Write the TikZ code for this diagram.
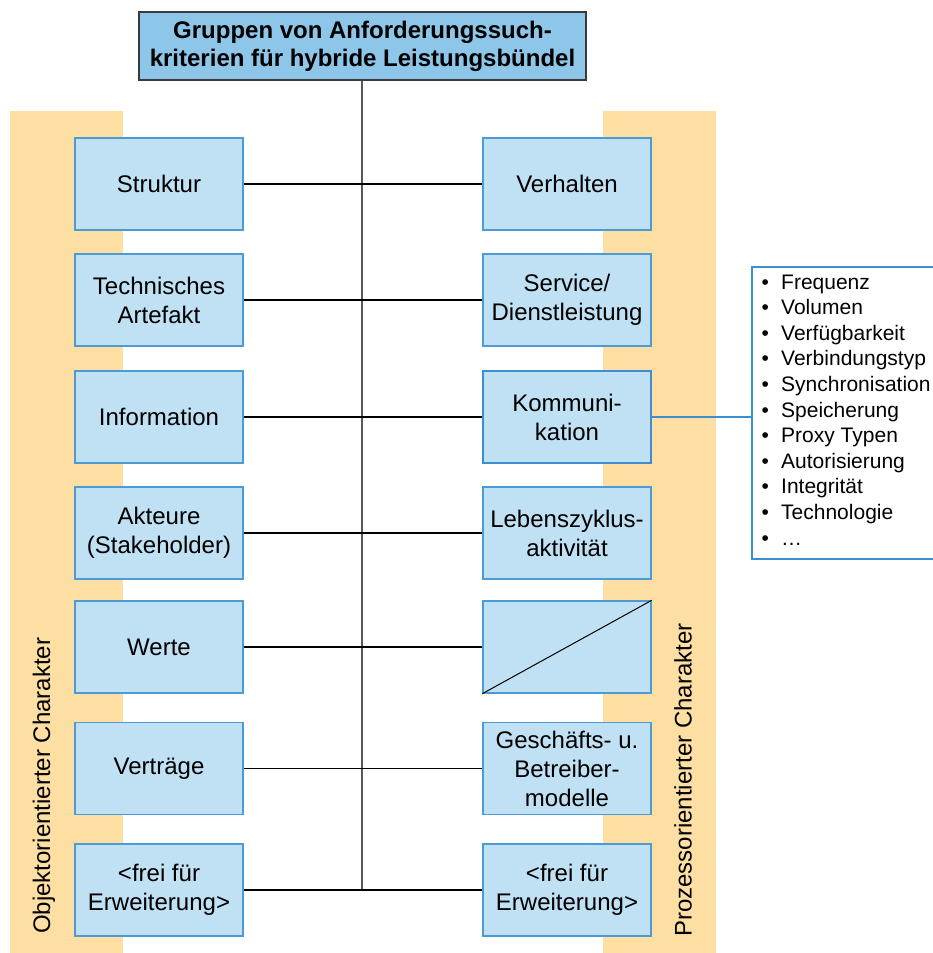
\documentclass[tikz,border=0pt]{standalone}
\usepackage{fontspec}
\setmainfont{Liberation Sans}
\definecolor{band}{HTML}{FDDEA3}
\definecolor{boxfill}{HTML}{C0E0F3}
\definecolor{boxline}{HTML}{4C9BD5}
\definecolor{kline}{HTML}{3D8ED0}
\definecolor{titlefill}{HTML}{8DC6E8}
\definecolor{titleline}{HTML}{3A3A3A}
\definecolor{trunk}{HTML}{595959}
\tikzset{
  cbox/.style={draw=boxline, line width=1.4pt, fill=boxfill, minimum width=168, minimum height=92,
    inner sep=0pt, align=center, font=\fontsize{24}{29}\selectfont},
  kbox/.style={cbox, draw=kline, line width=2.4pt},
  titlebox/.style={draw=titleline, line width=1.4pt, fill=titlefill, minimum width=447, minimum height=68,
    inner sep=0pt, align=center, font=\fontsize{24}{28}\selectfont\bfseries},
  branch/.style={draw=black, line width=1.1pt},
  trunkline/.style={draw=trunk, line width=1.6pt},
  bandlabel/.style={rotate=90, anchor=base west, inner sep=0pt, font=\fontsize{24}{29}\selectfont},
  listitem/.style={anchor=base west, inner sep=0pt, font=\fontsize{21}{25}\selectfont},
  listframe/.style={draw=kline, line width=2.2pt, fill=white, minimum width=189, minimum height=292,
    inner sep=0pt, anchor=north west},
}
\begin{document}
\begin{tikzpicture}[x=1pt, y=-1pt]
\useasboundingbox (0,0) rectangle (932,953);
% bands
\fill[band] (10,111) rectangle (123,953);
\fill[band] (603,111) rectangle (716,953);
% title
\node[titlebox] (title) at (362.5,46) {Gruppen von Anforderungssuch-\\kriterien für hybride Leistungsbündel};
% left boxes
\node[cbox] (L1) at (159,184) {Struktur};
\node[cbox] (L2) at (159,300) {Technisches\\Artefakt};
\node[cbox] (L3) at (159,417) {Information};
\node[cbox] (L4) at (159,533) {Akteure\\(Stakeholder)};
\node[cbox] (L5) at (159,647) {Werte};
\node[cbox] (L6) at (159,768.5) {Verträge};
\node[cbox] (L7) at (159,890) {<frei für\\Erweiterung>};
% right boxes
\node[cbox] (R1) at (567,184) {Verhalten};
\node[cbox] (R2) at (567,300) {Service/\\Dienstleistung};
\node[kbox] (R3) at (567,417) {Kommuni-\\kation};
\node[cbox] (R4) at (567,533) {Lebenszyklus-\\aktivität};
\node[cbox] (R5) at (567,647) {};
\node[cbox] (R6) at (567,768.5) {Geschäfts- u.\\Betreiber-\\modelle};
\node[cbox] (R7) at (567,890) {<frei für\\Erweiterung>};
\draw[line width=1pt] (R5.south west) -- (R5.north east);
% trunk
\coordinate (tend) at (362,891);
\draw[trunkline] (title.south -| tend) -- (tend);
% branches
\foreach \i in {1,...,7} {
  \draw[branch] (L\i.east) -- (R\i.west);
}
% list box
\node[listframe] (list) at (751,266) {};
\draw[draw=kline, line width=2.2pt] (R3.east) -- (R3.east -| list.west);
\foreach \t [count=\i] in {Frequenz,Volumen,Verfügbarkeit,Verbindungstyp,Synchronisation,Speicherung,Proxy Typen,Autorisierung,Integrität,Technologie,…} {
  \node[listitem] (item\i) at (761.5,{289+25.6*(\i-1)}) {\makebox[19.5pt][l]{•}\t};
}
% band labels
\node[bandlabel] (lbl) at (50,934) {Objektorientierter Charakter};
\node[bandlabel] (rbl) at (691.5,937) {Prozessorientierter Charakter};
\end{tikzpicture}
\end{document}
